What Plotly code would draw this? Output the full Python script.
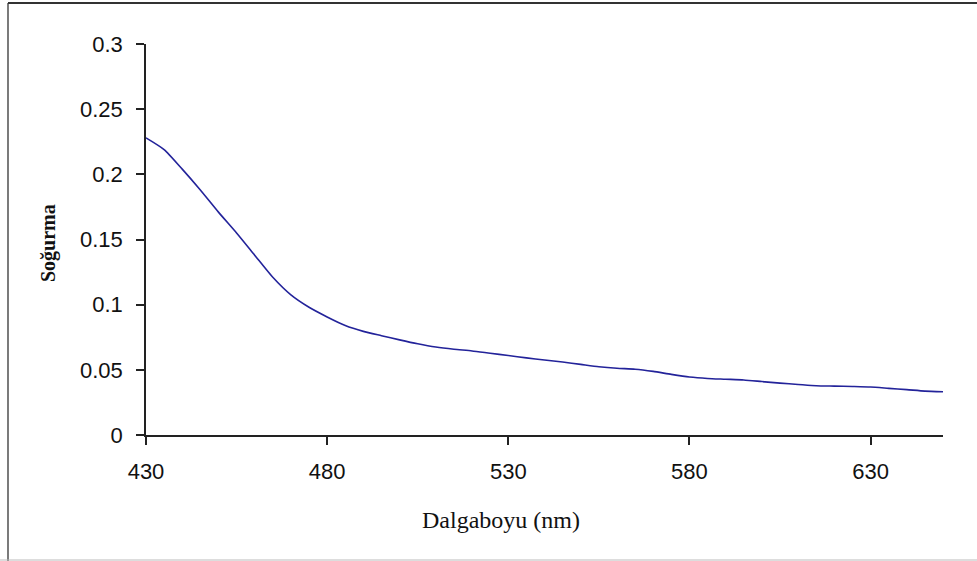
import plotly.graph_objects as go

# Data
wavelength_nm = [430, 435, 440, 445, 450, 455, 460, 465, 470, 475,
                 480, 485, 490, 495, 500, 505, 510, 515, 520, 525,
                 530, 535, 540, 545, 550, 555, 560, 565, 570, 575,
                 580, 585, 590, 595, 600, 605, 610, 615, 620, 625,
                 630, 635, 640, 645, 650]
absorbance = [0.228, 0.219, 0.204, 0.188, 0.171, 0.155, 0.138, 0.121, 0.1075, 0.098,
              0.0906, 0.0840, 0.0795, 0.0762, 0.0730, 0.0700, 0.0675, 0.0658, 0.0645, 0.0627,
              0.0610, 0.0592, 0.0575, 0.0560, 0.0542, 0.0524, 0.0512, 0.0505, 0.0488, 0.0465,
              0.0445, 0.0434, 0.0428, 0.0422, 0.0410, 0.0398, 0.0388, 0.0378, 0.0375, 0.0372,
              0.0368, 0.0358, 0.0348, 0.0337, 0.0332]

x_ticks = [430, 480, 530, 580, 630]
x_tick_labels = ["430", "480", "530", "580", "630"]
y_ticks = [0, 0.05, 0.1, 0.15, 0.2, 0.25, 0.3]
y_tick_labels = ["0", "0.05", "0.1", "0.15", "0.2", "0.25", "0.3"]
x_title = "Dalgaboyu (nm)"
y_title = "Soğurma"

W, H = 977, 561
L, R, T, B = 146, 34, 44, 126
PW, PH = W - L - R, H - T - B


def px_x(p):
    return (p - L) / PW


def px_y(p):
    return (H - B - p) / PH


fig = go.Figure()
fig.add_trace(go.Scatter(
    x=wavelength_nm, y=absorbance, mode="lines", line_shape="spline",
    line=dict(color="#23239a", width=1.6, smoothing=0.6),
    hoverinfo="x+y", showlegend=False,
))

axis_font = dict(family="Liberation Sans, Arial, sans-serif", size=22, color="#111111")

fig.update_layout(
    width=W, height=H,
    margin=dict(l=L, r=R, t=T, b=B),
    paper_bgcolor="white", plot_bgcolor="white",
    xaxis=dict(
        range=[430, 650], tickvals=x_ticks, ticktext=x_tick_labels,
        showgrid=False, zeroline=False, showline=True, linecolor="#222222", linewidth=1.5,
        ticks="outside", ticklen=8, tickwidth=1.5, tickcolor="#222222",
        tickfont=axis_font, ticklabelstandoff=8,
    ),
    yaxis=dict(
        range=[0, 0.3], tickvals=y_ticks, ticktext=y_tick_labels,
        showgrid=False, zeroline=False, showline=True, linecolor="#222222", linewidth=1.5,
        ticks="outside", ticklen=8, tickwidth=1.5, tickcolor="#222222",
        tickfont=axis_font, ticklabelstandoff=9,
    ),
    annotations=[
        dict(text=x_title, xref="paper", yref="paper", x=px_x(501), y=px_y(520),
             xanchor="center", yanchor="middle", showarrow=False,
             font=dict(family="Liberation Serif, Times New Roman, serif", size=24, color="#111111")),
        dict(text="<b>" + y_title + "</b>", xref="paper", yref="paper", x=px_x(48), y=px_y(243),
             xanchor="center", yanchor="middle", showarrow=False, textangle=-90,
             font=dict(family="Liberation Serif, Times New Roman, serif", size=20, color="#111111")),
    ],
    shapes=[
        dict(type="line", xref="paper", yref="paper", x0=px_x(8), x1=px_x(8),
             y0=px_y(3), y1=px_y(561), line=dict(color="#222222", width=1.2)),
        dict(type="line", xref="paper", yref="paper", x0=px_x(8), x1=px_x(977),
             y0=px_y(3), y1=px_y(3), line=dict(color="#333333", width=2)),
        dict(type="line", xref="paper", yref="paper", x0=px_x(0), x1=px_x(977),
             y0=px_y(560), y1=px_y(560), line=dict(color="#bbbbbb", width=1)),
    ],
)

fig.write_html("out.html")
